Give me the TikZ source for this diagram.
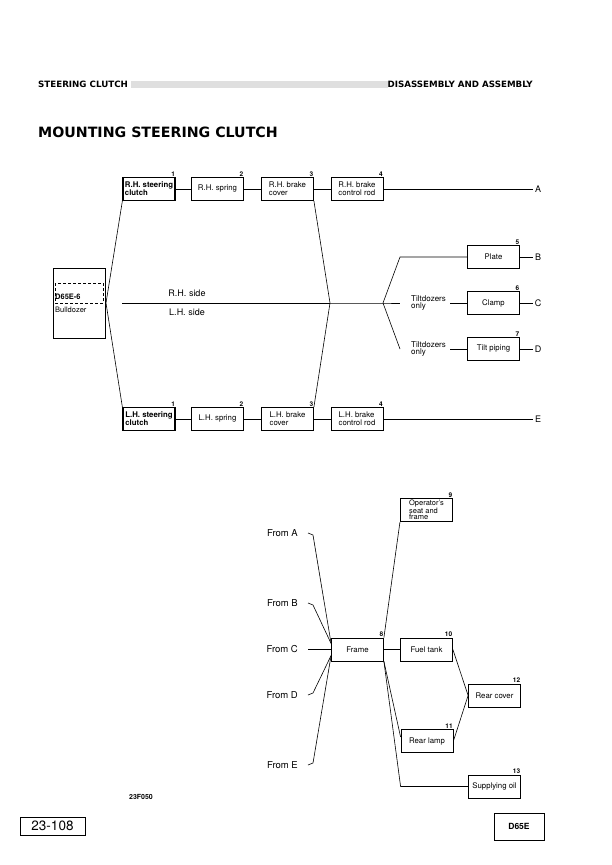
\documentclass[tikz,border=0pt]{standalone}
\usepackage{fontspec}
\setmainfont{TeX Gyre Heros}
\newfontfamily\headfont{DejaVu Sans}
\usetikzlibrary{positioning,calc}
\tikzset{
  partbox/.style={rectangle, draw, line width=0.8pt, minimum width=52pt,
                  minimum height=23pt, inner sep=1pt, align=left,
                  font=\fontsize{7.8}{8}\selectfont},
  keybox/.style={partbox, line width=1.3pt, font=\fontsize{7.8}{8}\selectfont\bfseries},
  stepnum/.style={anchor=south east, inner sep=0.5pt, font=\fontsize{6.5}{6.5}\selectfont\bfseries},
  flow/.style={line width=0.6pt},
  endlabel/.style={font=\fontsize{9}{10}\selectfont, inner sep=2pt},
  fromlabel/.style={anchor=east, font=\fontsize{9.5}{10}\selectfont, inner sep=1pt},
  sidelabel/.style={font=\fontsize{9}{10}\selectfont},
  notelabel/.style={anchor=west, font=\fontsize{8}{7.5}\selectfont, align=left, inner sep=0pt},
  headtext/.style={inner sep=0pt, font=\headfont\fontsize{8.7}{9}\selectfont\bfseries},
}

\begin{document}
\begin{tikzpicture}[x=1pt, y=-1pt]
  \useasboundingbox (0,0) rectangle (612,865);

  % page header
  \node[headtext, anchor=west] (hleft) at (38,84) {STEERING CLUTCH};
  \fill[gray!25] (131,80.5) rectangle (388,87.5);
  \node[headtext, anchor=east] (hright) at (533,84) {DISASSEMBLY AND ASSEMBLY};
  \node[anchor=west, inner sep=0pt, font=\headfont\fontsize{14.2}{15}\selectfont\bfseries]
    (title) at (38,132) {MOUNTING STEERING CLUTCH};

  % machine
  \node[draw, line width=0.8pt, minimum width=52pt, minimum height=70pt] (dozer) at (79,303) {};
  \draw[densely dashed, line width=0.6pt] (55,283) rectangle (103,303);
  \node[anchor=west, inner sep=0pt, font=\fontsize{7.5}{8}\selectfont\bfseries] (model) at (55,297) {D65E-6};
  \node[anchor=west, inner sep=0pt, font=\fontsize{7.5}{8}\selectfont] (dozertype) at (55,310) {Bulldozer};

  % R.H. side
  \node[keybox]  (rh1) at (149,189) {R.H. steering\\clutch};
  \node[partbox] (rh2) at (217.5,189) {R.H. spring};
  \node[partbox] (rh3) at (287.5,189) {R.H. brake\\cover};
  \node[partbox] (rh4) at (357,189) {R.H. brake\\control rod};
  \node[stepnum] (n1) at (rh1.north east) {1};
  \node[stepnum] (n2) at (rh2.north east) {2};
  \node[stepnum] (n3) at (rh3.north east) {3};
  \node[stepnum] (n4) at (rh4.north east) {4};
  \node[endlabel] (labA) at (538,189) {A};
  \draw[flow] (rh1) -- (rh2);
  \draw[flow] (rh2) -- (rh3);
  \draw[flow] (rh3) -- (rh4);
  \draw[flow] (rh4) -- (labA);

  % L.H. side
  \node[keybox]  (lh1) at (149,419) {L.H. steering\\clutch};
  \node[partbox] (lh2) at (217.5,419) {L.H. spring};
  \node[partbox] (lh3) at (287.5,419) {L.H. brake\\cover};
  \node[partbox] (lh4) at (357,419) {L.H. brake\\control rod};
  \node[stepnum] (m1) at (lh1.north east) {1};
  \node[stepnum] (m2) at (lh2.north east) {2};
  \node[stepnum] (m3) at (lh3.north east) {3};
  \node[stepnum] (m4) at (lh4.north east) {4};
  \node[endlabel] (labE) at (538,419) {E};
  \draw[flow] (lh1) -- (lh2);
  \draw[flow] (lh2) -- (lh3);
  \draw[flow] (lh3) -- (lh4);
  \draw[flow] (lh4) -- (labE);

  % fan out and join
  \coordinate (split) at (106,303);
  \coordinate (join) at (330,303);
  \coordinate (fork) at (383,303);
  \draw[flow] (rh1.south west) -- (split) -- (lh1.north west);
  \draw[flow] (rh3.south east) -- (join) -- (lh3.north east);
  \draw[flow, shorten <=16pt] (split) -- (join);
  \node[sidelabel] (rhside) at (187,293) {R.H. side};
  \node[sidelabel] (lhside) at (187,312) {L.H. side};

  % plate, clamp, tilt piping
  \node[partbox] (plate) at (493.5,257) {Plate};
  \node[partbox] (clamp) at (493.5,303) {Clamp};
  \node[partbox] (tilt)  at (493.5,349) {Tilt piping};
  \node[stepnum] (n5) at (plate.north east) {5};
  \node[stepnum] (n6) at (clamp.north east) {6};
  \node[stepnum] (n7) at (tilt.north east) {7};
  \node[endlabel] (labB) at (538,257) {B};
  \node[endlabel] (labC) at (538,303) {C};
  \node[endlabel] (labD) at (538,349) {D};
  \node[notelabel] (tdclamp) at (411,303) {Tiltdozers\\only};
  \node[notelabel] (tdtilt)  at (411,349) {Tiltdozers\\only};
  \draw[flow] (join) -- (fork) -- +(17,0);
  \draw[flow] (fork) -- ++(17,-46) -- (plate.west);
  \draw[flow] (fork) -- ++(17,46);
  \draw[flow] (clamp.west) -- +(-17,0);
  \draw[flow] (tilt.west) -- +(-17,0);
  \draw[flow] (plate) -- (labB);
  \draw[flow] (clamp) -- (labC);
  \draw[flow] (tilt) -- (labD);

  % frame and what follows
  \node[partbox] (frame) at (357.5,649.5) {Frame};
  \node[partbox, line width=1.1pt, font=\fontsize{7.5}{6.2}\selectfont] (seat) at (426.5,510) {Operator's\\seat and\\frame};
  \node[partbox] (fuel)  at (426.5,649.5) {Fuel tank};
  \node[partbox] (cover) at (494.5,695.5) {Rear cover};
  \node[partbox] (lamp)  at (427,741) {Rear lamp};
  \node[partbox] (oil)   at (494.5,786.5) {Supplying oil};
  \node[stepnum] (n8)  at (frame.north east) {8};
  \node[stepnum] (n9)  at (seat.north east) {9};
  \node[stepnum] (n10) at (fuel.north east) {10};
  \node[stepnum] (n11) at (lamp.north east) {11};
  \node[stepnum] (n12) at (cover.north east) {12};
  \node[stepnum] (n13) at (oil.north east) {13};

  \node[fromlabel] (fromA) at (299,533) {From A};
  \node[fromlabel] (fromB) at (299,603) {From B};
  \node[fromlabel] (fromC) at (299,649.5) {From C};
  \node[fromlabel] (fromD) at (299,695) {From D};
  \node[fromlabel] (fromE) at (299,765) {From E};
  \coordinate (inTop) at ([yshift=6pt]frame.west);
  \coordinate (inBot) at ([yshift=-6pt]frame.west);
  \draw[flow] ([xshift=9pt]fromA.east) -- ([xshift=14pt,yshift=-2pt]fromA.east) -- (inTop);
  \draw[flow] ([xshift=9pt]fromB.east) -- ([xshift=14pt,yshift=-2pt]fromB.east) -- (inTop);
  \draw[flow] ([xshift=9pt]fromC.east) -- (frame.west);
  \draw[flow] ([xshift=9pt]fromD.east) -- ([xshift=14pt,yshift=2pt]fromD.east) -- (inBot);
  \draw[flow] ([xshift=9pt]fromE.east) -- ([xshift=14pt,yshift=2pt]fromE.east) -- (inBot);

  \draw[flow] (frame.north east) -- (seat.south west);
  \draw[flow] (frame) -- (fuel);
  \draw[flow] (fuel.east) -- (cover.west) -- (lamp.east);
  \draw[flow] (frame.south east) -- ([yshift=4pt]lamp.west);
  \draw[flow] (frame.south east) -- (lamp.west |- oil.west) -- (oil.west);

  % footer
  \node[inner sep=0pt, font=\fontsize{7}{7}\selectfont\bfseries] (figid) at (141,797) {23F050};
  \node[draw, line width=0.7pt, minimum width=65pt, minimum height=18pt,
        font=\fontsize{13.5}{14}\selectfont] (pageno) at (52.5,826) {23-108};
  \node[draw, line width=0.7pt, minimum width=50pt, minimum height=27pt,
        font=\fontsize{8.5}{9}\selectfont\bfseries] (modelno) at (519,826.5) {D65E};
\end{tikzpicture}
\end{document}
